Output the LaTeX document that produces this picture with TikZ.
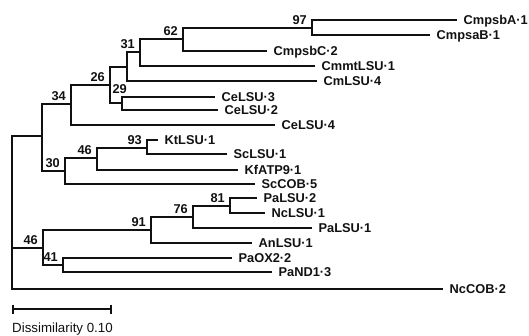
\documentclass[tikz,border=0pt]{standalone}
\usepackage{fontspec}
\setmainfont{Liberation Sans}
\usepackage{tikz}
\usetikzlibrary{positioning,calc}
\definecolor{inkblack}{HTML}{111111}
\newcommand{\treefont}{\fontsize{12.8pt}{14pt}\selectfont\bfseries}
\newcommand{\barfont}{\fontsize{13.3pt}{15pt}\selectfont}
\tikzset{
  branch/.style={line width=1.4pt, color=inkblack},
  leaf/.style={
    anchor=west, inner xsep=6.5pt, inner ysep=0pt,
    text height=9.3pt, text depth=0pt, font=\treefont, text=inkblack
  },
  boot/.style={
    anchor=south east, inner sep=0pt, text depth=0pt,
    font=\treefont, text=inkblack
  },
}

\begin{document}
\begin{tikzpicture}[x=1pt, y=-1pt]
  \useasboundingbox (0,0) rectangle (529,335);

  % branch points
  \coordinate (root) at (12,212);
  \coordinate (nA)   at (42,136);
  \coordinate (n34)  at (71,104);
  \coordinate (n26)  at (110,85);
  \coordinate (nB)   at (127,67);
  \coordinate (n31)  at (140,52);
  \coordinate (n62)  at (183,39);
  \coordinate (n97)  at (312,28);
  \coordinate (n29)  at (122,103);
  \coordinate (n30)  at (65,171);
  \coordinate (n46a) at (97,158);
  \coordinate (n93)  at (147,148);
  \coordinate (n46b) at (43,248);
  \coordinate (n91)  at (151,230);
  \coordinate (n76)  at (193,217);
  \coordinate (n81)  at (230,206);
  \coordinate (n41)  at (63,265);

  % leaves
  \node[leaf] (CmpsbA1)  at (457,20)  {CmpsbA·1};
  \node[leaf] (CmpsaB1)  at (430,35)  {CmpsaB·1};
  \node[leaf] (CmpsbC2)  at (267,51)  {CmpsbC·2};
  \node[leaf] (CmmtLSU1) at (315,66)  {CmmtLSU·1};
  \node[leaf] (CmLSU4)   at (317,81)  {CmLSU·4};
  \node[leaf] (CeLSU3)   at (215,97)  {CeLSU·3};
  \node[leaf] (CeLSU2)   at (218,110) {CeLSU·2};
  \node[leaf] (CeLSU4)   at (275,125) {CeLSU·4};
  \node[leaf] (KtLSU1)   at (158,140) {KtLSU·1};
  \node[leaf] (ScLSU1)   at (227,154) {ScLSU·1};
  \node[leaf] (KfATP91)  at (238,170) {KfATP9·1};
  \node[leaf] (ScCOB5)   at (255,184) {ScCOB·5};
  \node[leaf] (PaLSU2)   at (257,198) {PaLSU·2};
  \node[leaf] (NcLSU1)   at (265,213) {NcLSU·1};
  \node[leaf] (PaLSU1)   at (312,228) {PaLSU·1};
  \node[leaf] (AnLSU1)   at (252,243) {AnLSU·1};
  \node[leaf] (PaOX22)   at (232,258) {PaOX2·2};
  \node[leaf] (PaND13)   at (272,272) {PaND1·3};
  \node[leaf] (NcCOB2)   at (443,289) {NcCOB·2};

  \foreach \p/\c in {root/nA, root/n46b, root/NcCOB2,
      nA/n34, nA/n30, n34/n26, n34/CeLSU4, n26/nB, n26/n29,
      nB/n31, nB/CmLSU4, n31/n62, n31/CmmtLSU1, n62/n97, n62/CmpsbC2,
      n97/CmpsbA1, n97/CmpsaB1, n29/CeLSU3, n29/CeLSU2,
      n30/n46a, n30/ScCOB5, n46a/n93, n46a/KfATP91, n93/KtLSU1, n93/ScLSU1,
      n46b/n91, n46b/n41, n91/n76, n91/AnLSU1, n76/n81, n76/PaLSU1,
      n81/PaLSU2, n81/NcLSU1, n41/PaOX22, n41/PaND13}
    \draw[branch] (\p) |- (\c);

  % bootstrap values
  \foreach \n/\v in {n97/97, n62/62, n31/31, n26/26, n34/34, n93/93,
      n46a/46, n30/30, n81/81, n76/76, n91/91, n46b/46, n41/41}
    \node[boot] (b\n) at ($(\n)+(-5,-3.5)$) {\v};
  \node[boot] (bn29) at (127,94) {29};

  % scale bar
  \coordinate (barL) at (13,309);
  \coordinate (barR) at (111,309);
  \draw[branch] (barL) -- (barR);
  \draw[branch] ([yshift=4.5pt]barL) -- ([yshift=-4.5pt]barL);
  \draw[branch] ([yshift=4.5pt]barR) -- ([yshift=-4.5pt]barR);
  \node[anchor=base west, inner sep=0pt, font=\barfont, text=inkblack]
    (barlabel) at (12,332) {Dissimilarity 0.10};
\end{tikzpicture}
\end{document}
